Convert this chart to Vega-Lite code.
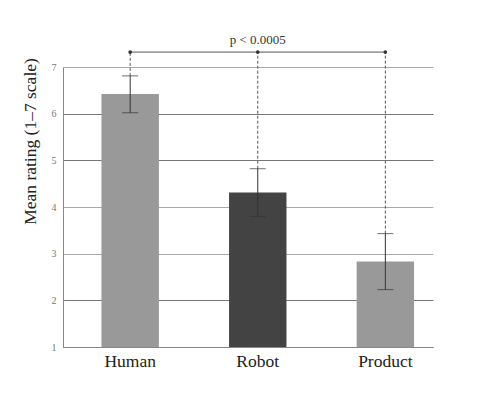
{
  "$schema": "https://vega.github.io/schema/vega-lite/v6.json",
  "width": 370,
  "height": 280,
  "autosize": {"type": "none"},
  "padding": {"left": 63, "top": 67, "right": 55, "bottom": 72},
  "background": "white",
  "config": {"view": {"stroke": null}, "font": "Liberation Serif", "axis": {"labelFont": "Liberation Serif", "titleFont": "Liberation Serif"}},
  "data": {"values": [
    {"cat": "Human", "mean": 6.42, "lower": 6.02, "upper": 6.81, "bracket": 7.32},
    {"cat": "Robot", "mean": 4.31, "lower": 3.8, "upper": 4.82, "bracket": 7.32},
    {"cat": "Product", "mean": 2.83, "lower": 2.23, "upper": 3.43, "bracket": 7.32}
  ]},
  "encoding": {
    "x": {"field": "cat", "type": "nominal",
      "scale": {"domain": ["Human", "Robot", "Product"], "paddingInner": 0.55, "paddingOuter": 0.225, "align": 0.67},
      "axis": {"title": null, "labelAngle": 0, "labelFontSize": 17.5, "labelColor": "#222", "labelPadding": 5, "ticks": false, "domainColor": "#888"}}
  },
  "layer": [
    {
      "mark": {"type": "bar"},
      "encoding": {
        "y": {"field": "mean", "type": "quantitative",
          "scale": {"domain": [1, 7], "nice": false, "zero": false},
          "axis": {"title": "Mean rating (1–7 scale)", "titleFontSize": 17.5, "titleFontWeight": "normal", "titleColor": "#222",
            "titleX": -33, "titleY": 74, "titleAngle": 270, "titleAlign": "center", "titleBaseline": "middle",
            "values": [1, 2, 3, 4, 5, 6, 7], "ticks": false, "labelFontSize": 10, "labelColor": "#777", "labelPadding": 7,
            "grid": true, "gridColor": {"condition": {"test": "datum.value == 7 || datum.value == 4 || datum.value == 3", "value": "#aaaaaa"}, "value": "#777777"},
            "domainColor": "#888"}},
        "y2": {"datum": 1},
        "color": {"field": "cat", "type": "nominal", "scale": {"domain": ["Human", "Robot", "Product"], "range": ["#999999", "#434343", "#999999"]}, "legend": null}
      }
    },
    {
      "mark": {"type": "rule", "color": "#555", "strokeWidth": 1, "strokeDash": [3, 2]},
      "encoding": {"y": {"field": "upper", "type": "quantitative"}, "y2": {"field": "bracket"}}
    },
    {
      "mark": {"type": "rule", "color": "#333", "strokeWidth": 1},
      "encoding": {"y": {"field": "lower", "type": "quantitative"}, "y2": {"field": "upper"}}
    },
    {
      "mark": {"type": "tick", "color": "#333", "size": 16, "thickness": 1},
      "encoding": {"y": {"field": "upper", "type": "quantitative"}}
    },
    {
      "mark": {"type": "tick", "color": "#333", "size": 16, "thickness": 1},
      "encoding": {"y": {"field": "lower", "type": "quantitative"}}
    },
    {
      "data": {"values": [{"from": "Human", "to": "Product", "y": 7.32}]},
      "mark": {"type": "rule", "color": "#555", "strokeWidth": 1},
      "encoding": {"x": {"field": "from", "type": "nominal"}, "x2": {"field": "to"}, "y": {"field": "y", "type": "quantitative"}}
    },
    {
      "mark": {"type": "point", "filled": true, "color": "#333", "size": 14, "opacity": 1},
      "encoding": {"y": {"field": "bracket", "type": "quantitative"}}
    },
    {
      "data": {"values": [{"cat": "Robot", "y": 7.32, "label": "p < 0.0005"}]},
      "mark": {"type": "text", "dy": -12, "fontSize": 13, "color": "#333", "font": "Liberation Serif"},
      "encoding": {"y": {"field": "y", "type": "quantitative"}, "text": {"field": "label"}}
    }
  ]
}
